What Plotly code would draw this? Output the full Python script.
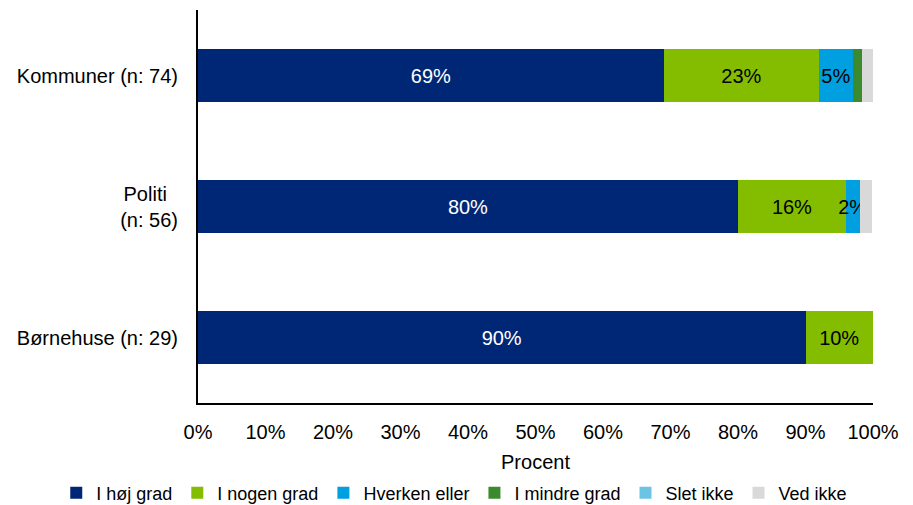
import plotly.graph_objects as go

# Respondent groups (top to bottom) and the answer categories
groups = ["Kommuner (n: 74)", "Politi (n: 56)", "Børnehuse (n: 29)"]
group_labels = ["Kommuner (n: 74)", "Politi\u00a0\u00a0<br>(n: 56)", "Børnehuse (n: 29)"]

answers = ["I høj grad", "I nogen grad", "Hverken eller", "I mindre grad", "Slet ikke", "Ved ikke"]
colors = ["#002776", "#84BD00", "#009FDF", "#3C8A2E", "#6CC4E4", "#D9D9D9"]
text_colors = ["white", "black", "black", "black", "black", "black"]

# Share of answers in percent, one list per answer category (order follows groups)
hoej_grad = [69, 80, 90]
nogen_grad = [23, 16, 10]
hverken_eller = [5, 2, 0]
mindre_grad = [1.4, 0, 0]
slet_ikke = [0, 0, 0]
ved_ikke = [1.6, 1.8, 0]

series = [hoej_grad, nogen_grad, hverken_eller, mindre_grad, slet_ikke, ved_ikke]

# Only segments of at least 2 % carry a value label
MIN_LABEL = 2

FONT = "Liberation Sans, Arial, sans-serif"

fig = go.Figure()
for name, vals, col, tcol in zip(answers, series, colors, text_colors):
    labels = [f"{v:.0f}%" if v >= MIN_LABEL else "" for v in vals]
    fig.add_trace(go.Bar(
        y=groups,
        x=vals,
        name=name,
        orientation="h",
        marker=dict(color=col, line=dict(width=0)),
        text=labels,
        textposition="inside",
        insidetextanchor="middle",
        constraintext="none",
        textangle=0,
        textfont=dict(color=tcol, size=20, family=FONT),
        hoverinfo="skip",
    ))

fig.update_layout(
    barmode="stack",
    bargap=0.6,
    width=913,
    height=505,
    margin=dict(l=198, r=40, t=10, b=102, autoexpand=False),
    paper_bgcolor="white",
    plot_bgcolor="white",
    font=dict(family=FONT, size=20, color="black"),
    xaxis=dict(
        range=[0, 100],
        tick0=0,
        dtick=10,
        ticksuffix="%",
        showgrid=False,
        zeroline=False,
        showline=True,
        linecolor="black",
        linewidth=2,
        ticks="",
        ticklabelstandoff=10,
        tickfont=dict(size=20),
        title=dict(text="Procent", font=dict(size=20), standoff=13),
    ),
    yaxis=dict(
        categoryorder="array",
        categoryarray=groups,
        autorange="reversed",
        tickvals=groups,
        ticktext=group_labels,
        showgrid=False,
        zeroline=False,
        showline=True,
        linecolor="black",
        linewidth=2,
        ticks="",
        ticklabelstandoff=14,
        tickfont=dict(size=20),
    ),
    legend=dict(
        orientation="h",
        x=-0.21,
        xanchor="left",
        y=-0.229,
        yanchor="middle",
        font=dict(size=18),
        traceorder="normal",
        itemwidth=30,
    ),
    showlegend=True,
)

fig.write_html("out.html")
